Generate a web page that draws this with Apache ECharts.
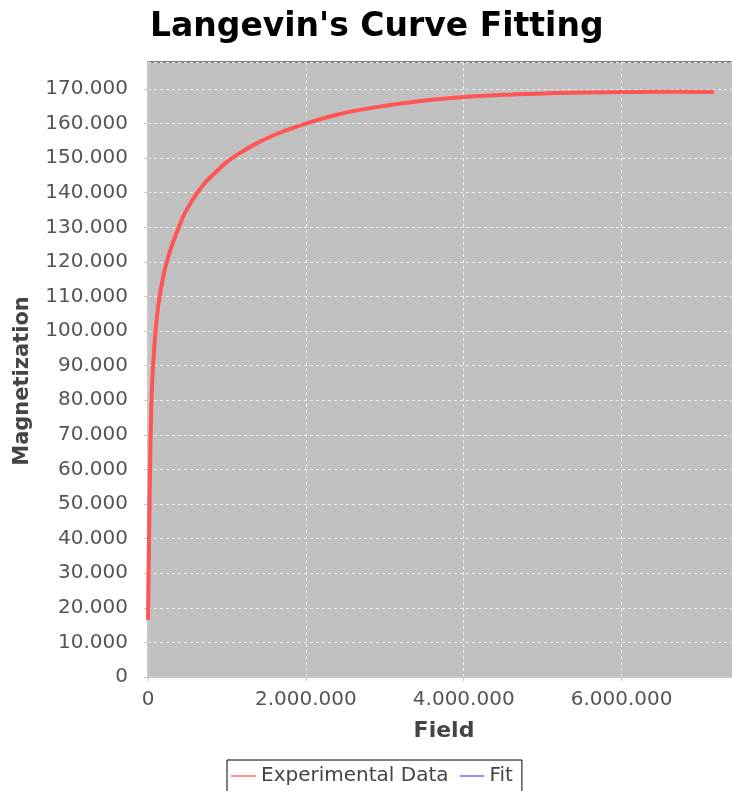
<!DOCTYPE html>
<html>
<head>
<meta charset="utf-8">
<script src="https://cdn.jsdelivr.net/npm/echarts@6/dist/echarts.min.js"></script>
<style>
html,body{margin:0;padding:0;background:#fff;overflow:hidden;}
#chart{width:770px;height:791px;}
</style>
</head>
<body>
<div id="chart"></div>
<script>
// Field values (x)
const fieldValues = [0, 13000, 25000, 38000, 55000, 76000, 100000, 140000, 200000, 270000, 330000, 390000, 460000, 560000, 650000, 740000, 850000, 990000, 1150000, 1370000, 1550000, 1700000, 2000000, 2420000, 2800000, 3200000, 3600000, 4000000, 4500000, 5000000, 5500000, 6000000, 6500000, 7170000];
// Experimental magnetization values (y)
const experimentalValues = [16500, 40000, 59000, 75000, 86000, 94000, 101000, 109000, 116500, 122500, 126500, 130000, 133800, 137800, 140800, 143300, 145800, 148700, 151300, 154200, 156200, 157600, 160000, 162700, 164400, 165800, 166900, 167700, 168300, 168700, 169000, 169100, 169200, 169100];
// Fit values (hidden beneath the experimental data in the picture)
const fitValues = experimentalValues.slice();
// Axis ticks
const yTickInterval = 10000;
const xTickInterval = 2000000;
const yMax = 177800;
const xMax = 7500000;

function fmt(v) {
  const s = Math.round(v).toString();
  return s.replace(/\B(?=(\d{3})+(?!\d))/g, '.');
}

const expData = fieldValues.map((f, i) => [f, experimentalValues[i]]);
const fitData = fieldValues.map((f, i) => [f, fitValues[i]]);

const chart = echarts.init(document.getElementById('chart'));
const FONT = 'DejaVu Sans';
chart.setOption({
  animation: false,
  backgroundColor: '#ffffff',
  title: {
    text: "Langevin's Curve Fitting",
    left: 145,
    top: 6,
    textStyle: { fontFamily: FONT, fontWeight: 'bold', fontSize: 33, color: '#000' }
  },
  grid: {
    left: 148,
    top: 62,
    width: 592,
    height: 615,
    show: true,
    backgroundColor: '#c0c0c0',
    borderColor: '#808080',
    borderWidth: 2
  },
  legend: {
    left: 227,
    top: 760,
    padding: [6, 9, 6, 4],
    itemWidth: 25,
    itemHeight: 2,
    itemGap: 11,
    borderColor: '#000',
    borderWidth: 1,
    textStyle: { fontFamily: FONT, fontSize: 20, color: '#444' },
    data: [
      { name: 'Experimental Data', icon: 'rect', itemStyle: { color: '#ff9090' } },
      { name: 'Fit', icon: 'rect', itemStyle: { color: '#9090ff' } }
    ]
  },
  xAxis: {
    type: 'value',
    min: 0,
    max: xMax,
    interval: xTickInterval,
    offset: 6,
    name: 'Field',
    nameLocation: 'middle',
    nameGap: 37,
    nameTextStyle: { fontFamily: FONT, fontWeight: 'bold', fontSize: 22, color: '#444' },
    axisLine: { show: true, lineStyle: { color: '#c8c8c8', width: 2 } },
    axisTick: { show: true, length: 4, lineStyle: { color: '#c8c8c8' } },
    axisLabel: { fontFamily: FONT, fontSize: 20, color: '#555', margin: 7, showMaxLabel: false, formatter: fmt },
    splitLine: { show: true, lineStyle: { color: '#eeeeee', type: [3, 3], width: 1 } }
  },
  yAxis: {
    type: 'value',
    min: 0,
    max: yMax,
    interval: yTickInterval,
    offset: 6,
    axisLine: { show: true, lineStyle: { color: '#c8c8c8', width: 2 } },
    axisTick: { show: true, length: 4, lineStyle: { color: '#c8c8c8' } },
    axisLabel: { fontFamily: FONT, fontSize: 20, color: '#555', margin: 14, showMaxLabel: false, formatter: fmt },
    splitLine: { show: true, lineStyle: { color: '#eeeeee', type: [3, 3], width: 1 } }
  },
  graphic: [{
    type: 'text',
    x: 23,
    y: 381,
    rotation: Math.PI / 2,
    style: {
      text: 'Magnetization',
      font: 'bold 21px "DejaVu Sans"',
      fill: '#444',
      textAlign: 'center',
      textVerticalAlign: 'middle'
    }
  }],
  series: [
    {
      name: 'Fit',
      type: 'line',
      data: fitData,
      symbol: 'none',
      smooth: 0.4,
      z: 2,
      lineStyle: { color: '#8c8cff', width: 1 },
      itemStyle: { color: '#9090ff' }
    },
    {
      name: 'Experimental Data',
      type: 'line',
      data: expData,
      symbol: 'none',
      smooth: 0.4,
      z: 3,
      lineStyle: { color: '#ff5555', width: 4 },
      itemStyle: { color: '#ff9090' }
    }
  ]
});
</script>
</body>
</html>
